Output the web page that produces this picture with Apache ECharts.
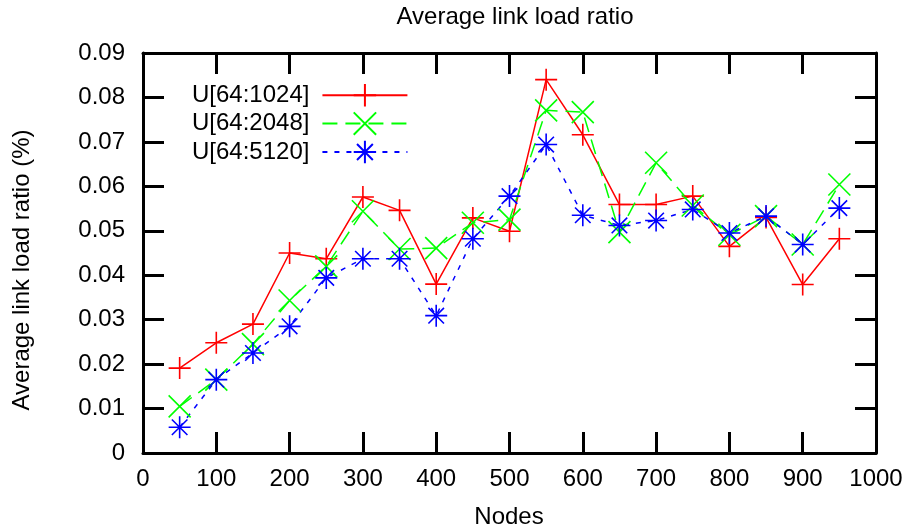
<!DOCTYPE html>
<html><head><meta charset="utf-8">
<script src="https://cdn.jsdelivr.net/npm/echarts@6/dist/echarts.min.js"></script>
<style>html,body{margin:0;padding:0;background:#fff}#c{width:912px;height:531px}</style>
</head><body><div id="c"></div>
<script>
var nodes = [50,100,150,200,250,300,350,400,450,500,550,600,650,700,750,800,850,900,950];
var u1024 = [0.0191,0.0248,0.0290,0.0450,0.0437,0.0576,0.0546,0.0380,0.0529,0.0499,0.0840,0.0716,0.0559,0.0559,0.0578,0.0465,0.0530,0.0379,0.0482];
var u2048 = [0.0105,0.0165,0.0245,0.0343,0.0420,0.0544,0.0459,0.0461,0.0518,0.0525,0.0771,0.0767,0.0497,0.0653,0.0557,0.0491,0.0533,0.0469,0.0604];
var u5120 = [0.0058,0.0165,0.0225,0.0285,0.0394,0.0437,0.0437,0.0309,0.0482,0.0578,0.0694,0.0535,0.0512,0.0523,0.0548,0.0495,0.0533,0.0469,0.0551];
var names = ['U[64:1024]','U[64:2048]','U[64:5120]'];
var xTicks = [0,100,200,300,400,500,600,700,800,900,1000];
var yTicks = [0,0.01,0.02,0.03,0.04,0.05,0.06,0.07,0.08,0.09];

var FONT = 'Liberation Sans, Arial, sans-serif';
var FS = 24;
var PLUS = 'path://M0,-10L0,10M-10,0L10,0';
var CROSS = 'path://M-10,-10L10,10M10,-10L-10,10';
var STAR = 'path://M0,-10L0,10M-10,0L10,0M-7.07,-7.07L7.07,7.07M7.07,-7.07L-7.07,7.07';

function pairs(ys){ return nodes.map(function(x,i){ return [x, ys[i]]; }); }
function mk(name, ys, color, sym, dash){
  return {
    name: name, type: 'line', data: pairs(ys), symbol: sym, symbolSize: 22,
    showAllSymbol: true, animation: false,
    lineStyle: {color: color, width: 1.5, type: dash},
    itemStyle: {color: 'rgba(0,0,0,0)', borderColor: color, borderWidth: 1.6},
    emphasis: {disabled: true}
  };
}
var chart = echarts.init(document.getElementById('c'));
function axisCommon(){
  return {
    axisLine: {show: true, onZero: false, lineStyle: {color: '#000', width: 3}},
    axisTick: {show: true, inside: true, length: 21, lineStyle: {color: '#000', width: 3}},
    splitLine: {show: false}
  };
}
function xFmt(v){ return String(Math.round(v)); }
function yFmt(v){ return v === 0 ? '0' : v.toFixed(2); }
chart.setOption({
  animation: false,
  backgroundColor: '#fff',
  title: {text: 'Average link load ratio', left: 510, top: 0, textAlign: 'center',
    textStyle: {fontFamily: FONT, fontSize: FS, fontWeight: 'normal', color: '#000'}},
  grid: {left: 143, right: 36, top: 53, bottom: 78, show: false},
  legend: {
    orient: 'vertical', left: 187, top: 78, align: 'right', itemGap: 4,
    itemWidth: 85, itemHeight: 28,
    textStyle: {fontFamily: FONT, fontSize: FS, color: '#000', padding: [0, 8, 0, 0]},
    data: names
  },
  xAxis: [
    Object.assign({type: 'value', min: xTicks[0], max: xTicks[xTicks.length-1], interval: 100,
      axisLabel: {fontFamily: FONT, fontSize: FS, color: '#000', margin: 14, formatter: xFmt}}, axisCommon()),
    Object.assign({type: 'value', min: xTicks[0], max: xTicks[xTicks.length-1], interval: 100, position: 'top',
      axisLabel: {show: false}}, axisCommon())
  ],
  yAxis: [
    Object.assign({type: 'value', min: yTicks[0], max: yTicks[yTicks.length-1], interval: 0.01,
      axisLabel: {fontFamily: FONT, fontSize: FS, color: '#000', margin: 18, formatter: yFmt}}, axisCommon()),
    Object.assign({type: 'value', min: yTicks[0], max: yTicks[yTicks.length-1], interval: 0.01, position: 'right',
      axisLabel: {show: false}}, axisCommon())
  ],
  graphic: [
    {type: 'text', x: 509, y: 517, style: {text: 'Nodes', fontFamily: FONT, fontSize: FS, fill: '#000', align: 'center', verticalAlign: 'middle'}},
    {type: 'text', x: 22, y: 270, rotation: Math.PI/2, style: {text: 'Average link load ratio (%)', fontFamily: FONT, fontSize: FS, fill: '#000', align: 'center', verticalAlign: 'middle'}}
  ],
  series: [
    mk(names[0], u1024, '#ff0000', PLUS, 'solid'),
    mk(names[1], u2048, '#00ff00', CROSS, [15, 8]),
    mk(names[2], u5120, '#0000ff', STAR, [5, 7])
  ]
});
</script></body></html>
